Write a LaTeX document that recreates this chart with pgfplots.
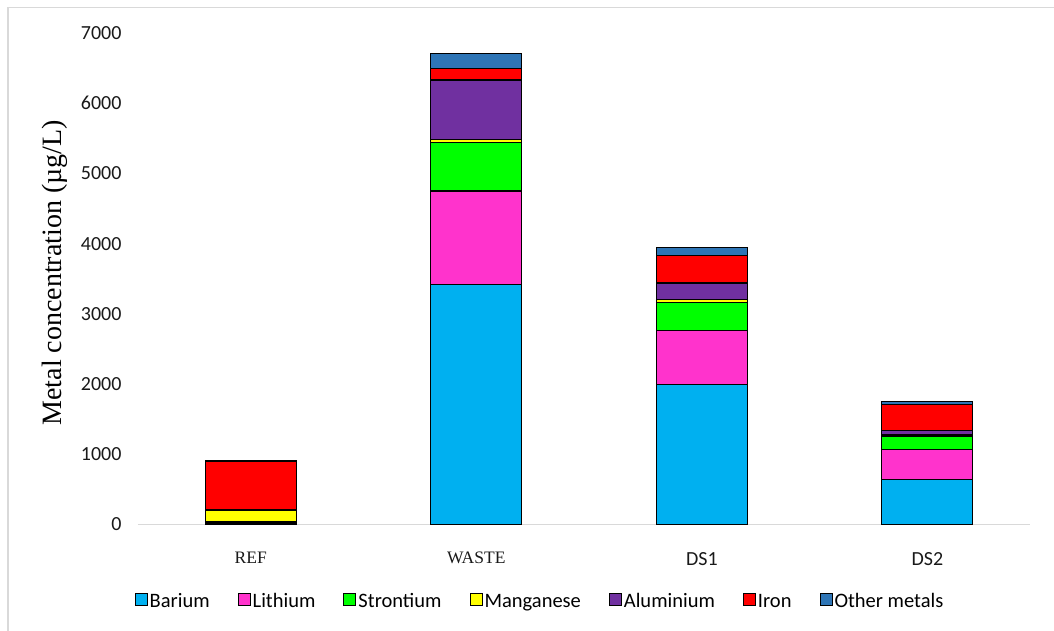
\documentclass[border=0pt]{standalone}
\usepackage{fontspec}
\setmainfont{Carlito}
\newfontfamily\timesfont{Liberation Serif}
\usepackage{pgfplots}
\pgfplotsset{compat=1.18}

\definecolor{cBa}{HTML}{00B0F0}
\definecolor{cLi}{HTML}{FF33CC}
\definecolor{cSr}{HTML}{00FF00}
\definecolor{cMn}{HTML}{FFFF00}
\definecolor{cAl}{HTML}{7030A0}
\definecolor{cFe}{HTML}{FF0000}
\definecolor{cOt}{HTML}{2E75B6}
\definecolor{frame}{HTML}{D9D9D9}

% metal concentrations (ug/L) per sample: REF, WASTE, DS1, DS2
\pgfplotstableread{
x Ba   Li   Sr  Mn  Al  Fe  Ot
0 15   10   10  165 15  680 10
1 3420 1330 690 40  850 165 215
2 1990 770  400 40  240 390 120
3 640  430  185 20  65  365 50
}\metals

\begin{document}
\begin{tikzpicture}
\path[use as bounding box] (-138pt,-105.5pt) rectangle (916pt,524.5pt);
\draw[frame, line width=1.5pt] (-130pt,-110pt) -- (-130pt,517pt) -- (920pt,517pt);
\begin{axis}[
  at={(0,0)}, anchor=south west,
  scale only axis, width=892pt, height=491.5pt,
  ybar stacked, bar width=91pt,
  xmin=-0.5, xmax=3.455, ymin=0, ymax=7000,
  axis x line=bottom, axis y line=left,
  x axis line style={-, draw=frame, line width=1.5pt},
  y axis line style={draw=none},
  major tick length=0pt,
  xtick={0,1,2,3},
  xticklabels={{\timesfont\fontsize{17.5}{20}\selectfont REF},{\timesfont\fontsize{17.5}{20}\selectfont WASTE},DS1,DS2},
  ytick={0,1000,...,7000},
  /pgf/number format/assume math mode=true,
  /pgf/number format/1000 sep={},
  tick label style={font=\fontsize{20}{24}\selectfont, text=black!90},
  yticklabel style={xshift=-13pt},
  xticklabel style={yshift=-24pt},
  ylabel={\timesfont Metal concentration (µg/L)},
  ylabel style={font=\fontsize{28}{33}\selectfont, at={(axis description cs:-0.093,0.512)}, anchor=center},
  every axis plot/.append style={draw=black, line width=1.2pt},
  area legend,
  legend image code/.code={\draw[#1, draw=black, line width=1pt] (0pt,-6pt) rectangle (12pt,6pt);},
  legend style={at={(axis description cs:0.4507,-0.1536)}, anchor=center, draw=none,
    font=\fontsize{20.5}{24}\selectfont, legend columns=7,
    nodes={inner xsep=2pt},
    /tikz/every even column/.append style={column sep=26pt}},
]
\addplot[fill=cBa] table[x=x, y=Ba] {\metals};
\addplot[fill=cLi] table[x=x, y=Li] {\metals};
\addplot[fill=cSr] table[x=x, y=Sr] {\metals};
\addplot[fill=cMn] table[x=x, y=Mn] {\metals};
\addplot[fill=cAl] table[x=x, y=Al] {\metals};
\addplot[fill=cFe] table[x=x, y=Fe] {\metals};
\addplot[fill=cOt] table[x=x, y=Ot] {\metals};
\legend{\strut Barium, \strut Lithium, \strut Strontium, \strut Manganese, \strut Aluminium, \strut Iron, \strut Other metals}
\end{axis}
\end{tikzpicture}
\end{document}
